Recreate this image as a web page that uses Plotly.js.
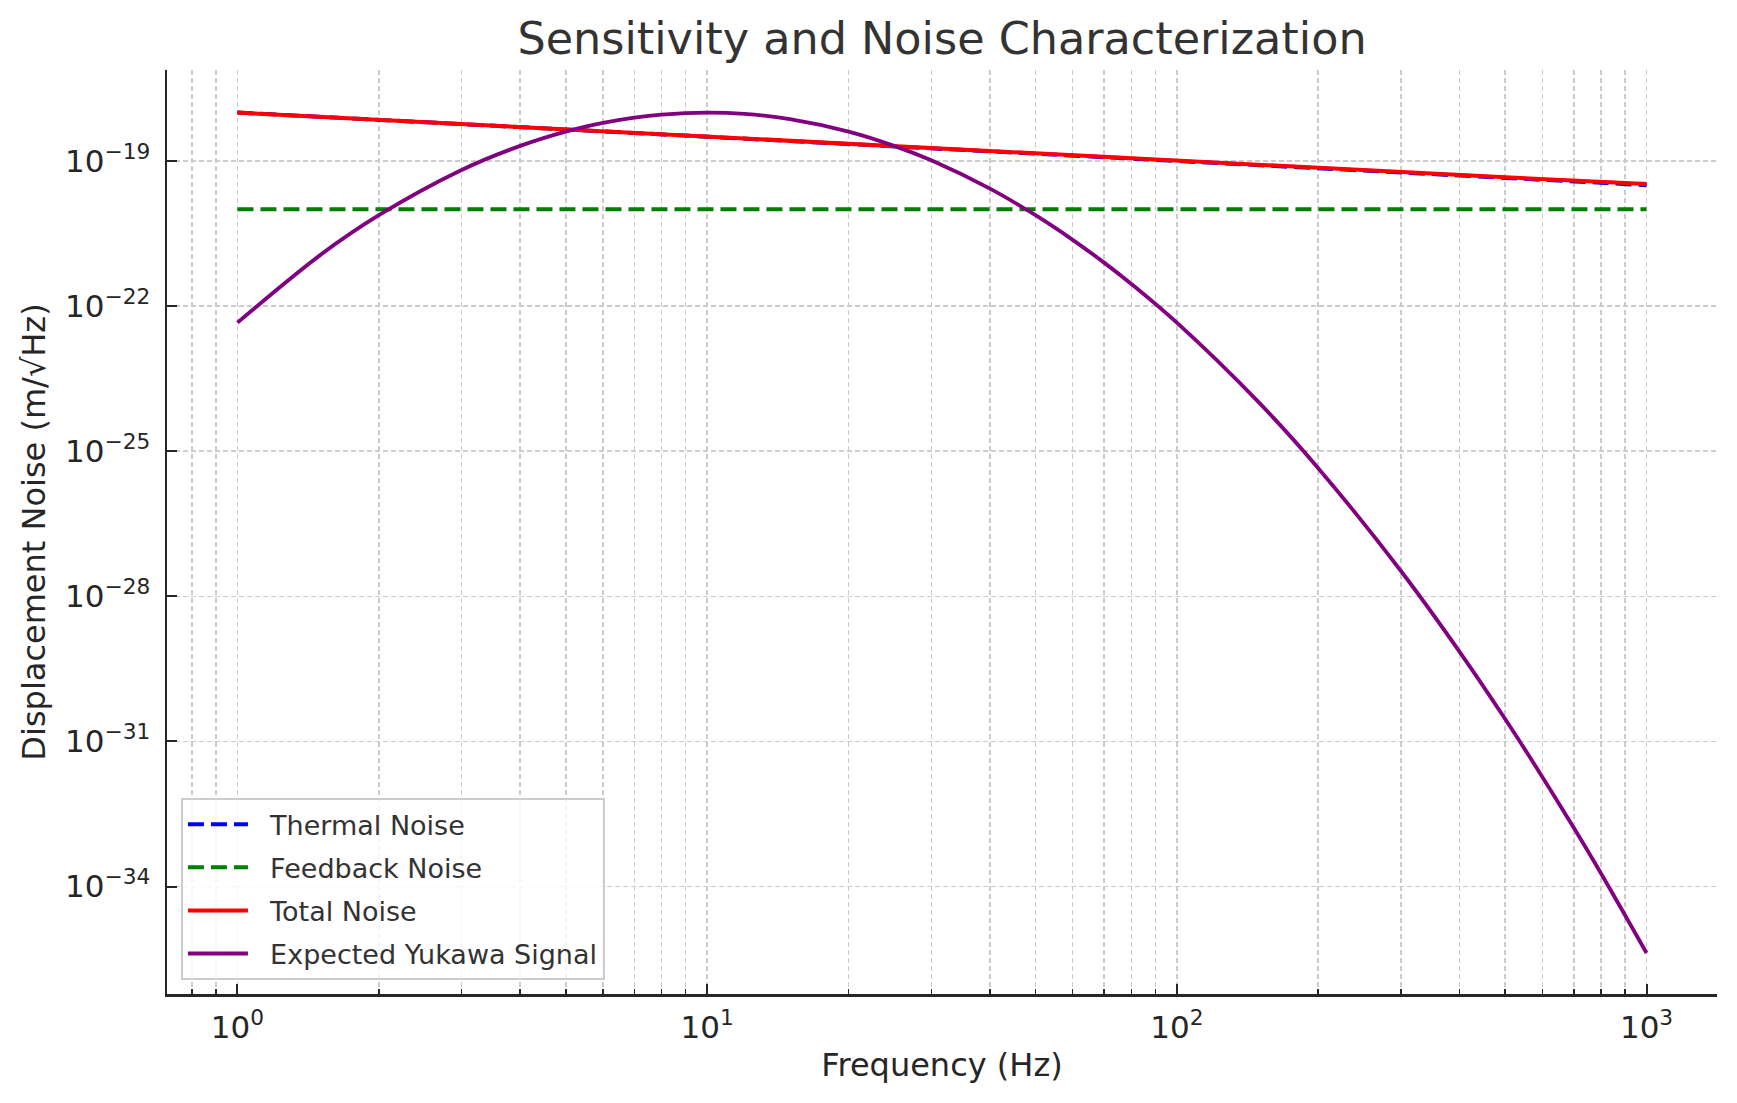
<!DOCTYPE html>
<html>
<head>
<meta charset="utf-8">
<script src="https://cdn.plot.ly/plotly-3.1.0.min.js"></script>
<style>
	html, body { margin: 0; padding: 0; background: #fff; }
	#chart { width: 1737px; height: 1103px; }
</style>
</head>
<body>
<div id="chart"></div>
<script>
// values
const noiseFreq = [1, 10, 100, 200, 500, 1000]
const thermalNoise = [1.0e-18, 3.16e-19, 1.0e-19, 7.07e-20, 4.47e-20, 3.16e-20]
const feedbackNoise = [1e-20, 1e-20, 1e-20, 1e-20, 1e-20, 1e-20]
const totalNoise = [1.0e-18, 3.16e-19, 1.005e-19, 7.14e-20, 4.58e-20, 3.32e-20]

const yukawaFreq = [1, 1.5, 2, 3, 4, 5, 6, 7, 8, 10, 12, 15, 20, 25, 30, 40, 50, 60, 70, 80,
	100, 150, 200, 300, 400, 500, 600, 700, 800, 1000]
const yukawaSignal = [4.54e-23, 1.13e-21, 7.55e-21, 6.5e-20, 2.05e-19, 4.04e-19, 6.11e-19, 7.87e-19, 9.1e-19, 1.0e-18,
	9.39e-19, 7.33e-19, 4.04e-19, 2.05e-19, 1.03e-19, 2.67e-20, 7.55e-21, 2.34e-21, 7.91e-22, 2.87e-22,
	4.54e-23, 9.84e-25, 4.46e-26, 3.34e-28, 7.13e-30, 2.91e-31, 1.85e-32, 1.64e-33, 1.87e-34, 4.25e-36]

const seriesNames = ['Thermal Noise', 'Feedback Noise', 'Total Noise', 'Expected Yukawa Signal']

// axis ticks
const xTickVals = [1, 10, 100, 1000]
const xTickText = ['10<sup>0</sup>', '10<sup>1</sup>', '10<sup>2</sup>', '10<sup>3</sup>']
const xMinorVals = [0.8, 0.9, 2, 3, 4, 5, 6, 7, 8, 9, 20, 30, 40, 50, 60, 70, 80, 90,
	200, 300, 400, 500, 600, 700, 800, 900]
const yTickVals = [1e-19, 1e-22, 1e-25, 1e-28, 1e-31, 1e-34]
const yTickText = ['10<sup>−19</sup>', '10<sup>−22</sup>', '10<sup>−25</sup>',
	'10<sup>−28</sup>', '10<sup>−31</sup>', '10<sup>−34</sup>']

const FONT = '"DejaVu Sans", Verdana, sans-serif'
const GRID = '#cccccc'
const INK = '#262626'
// a little room between the legend line sample and its label
const pad = '\u00a0\u00a0'

const traces = [
	{
		x: noiseFreq, y: thermalNoise, name: pad + seriesNames[0], legendgroup: 'a',
		type: 'scatter', mode: 'lines',
		line: { color: '#0000ff', width: 4, dash: '16px,7px' },
	},
	{
		x: noiseFreq, y: feedbackNoise, name: pad + seriesNames[1], legendgroup: 'b',
		type: 'scatter', mode: 'lines',
		line: { color: '#008000', width: 4, dash: '16px,7px' },
	},
	{
		x: noiseFreq, y: totalNoise, name: pad + seriesNames[2], legendgroup: 'c',
		type: 'scatter', mode: 'lines',
		line: { color: '#ff0000', width: 4 },
	},
	{
		x: yukawaFreq, y: yukawaSignal, name: pad + seriesNames[3], legendgroup: 'd',
		type: 'scatter', mode: 'lines',
		line: { color: '#800080', width: 3.8, shape: 'spline', smoothing: 1 },
	},
]

const layout = {
	width: 1737,
	height: 1103,
	paper_bgcolor: '#ffffff',
	plot_bgcolor: '#ffffff',
	margin: { l: 167, r: 20, t: 70, b: 109 },
	font: { family: FONT, color: INK },
	title: {
		text: 'Sensitivity and Noise Characterization',
		font: { family: FONT, size: 44.5, color: '#333333' },
		x: 0.5, xanchor: 'center', xref: 'paper',
		y: 0.965, yanchor: 'middle',
	},
	xaxis: {
		type: 'log',
		range: [-0.15, 3.15],
		tickmode: 'array',
		tickvals: xTickVals,
		ticktext: xTickText,
		tickfont: { family: FONT, size: 31, color: INK },
		ticks: 'inside', ticklen: 10, tickwidth: 2, tickcolor: INK,
		ticklabelstandoff: 4,
		showline: true, linecolor: INK, linewidth: 2.5, mirror: false,
		showgrid: true, gridcolor: GRID, gridwidth: 1.5, griddash: '5px,3px',
		zeroline: false,
		minor: {
			tickmode: 'array',
			tickvals: xMinorVals,
			ticks: 'inside', ticklen: 5, tickwidth: 1.5, tickcolor: INK,
			showgrid: true, gridcolor: GRID, gridwidth: 1.5, griddash: '5px,3px',
		},
		title: {
			text: 'Frequency (Hz)',
			font: { family: FONT, size: 32, color: INK },
			standoff: 10,
		},
		automargin: false,
	},
	yaxis: {
		type: 'log',
		range: [-36.22, -17.12],
		tickmode: 'array',
		tickvals: yTickVals,
		ticktext: yTickText,
		tickfont: { family: FONT, size: 31, color: INK },
		ticks: 'inside', ticklen: 10, tickwidth: 2, tickcolor: INK,
		ticklabelstandoff: 8,
		showline: true, linecolor: INK, linewidth: 2.5, mirror: false,
		showgrid: true, gridcolor: GRID, gridwidth: 1.5, griddash: '5px,3px',
		zeroline: false,
		title: {
			text: 'Displacement Noise (m/√Hz)',
			font: { family: FONT, size: 32, color: INK },
			standoff: 10,
		},
		automargin: false,
	},
	showlegend: true,
	legend: {
		x: 0.009, y: 0.015, xanchor: 'left', yanchor: 'bottom',
		bgcolor: 'rgba(255,255,255,0.8)',
		bordercolor: '#cccccc', borderwidth: 2,
		font: { family: FONT, size: 27, color: '#333333' },
		traceorder: 'grouped',
		tracegroupgap: 5,
		itemwidth: 60,
	},
}

Plotly.newPlot('chart', traces, layout, { staticPlot: true, displayModeBar: false })
</script>
</body>
</html>
